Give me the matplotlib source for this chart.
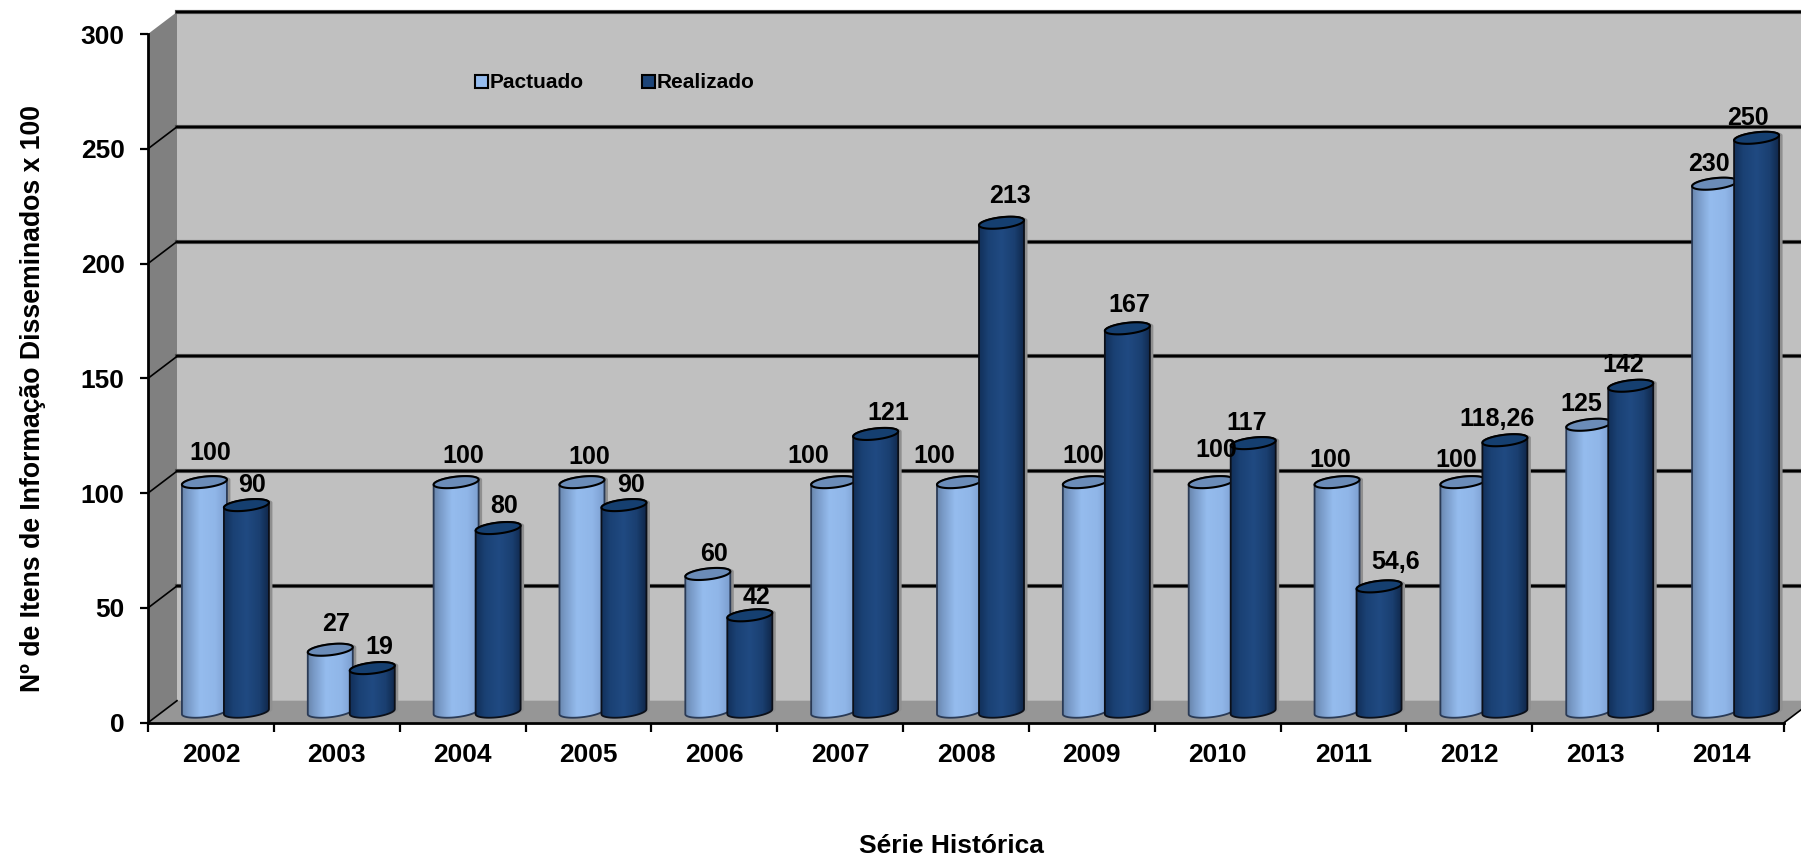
import matplotlib
matplotlib.use('Agg')
import matplotlib.pyplot as plt
import numpy as np
from matplotlib.colors import LinearSegmentedColormap
from matplotlib.patches import Patch, Polygon

plt.rcParams['font.family'] = ['Liberation Sans', 'DejaVu Sans']

years = ['2002', '2003', '2004', '2005', '2006', '2007', '2008', '2009', '2010', '2011', '2012', '2013', '2014']
pactuado = [100, 27, 100, 100, 60, 100, 100, 100, 100, 100, 100, 125, 230]
realizado = [90, 19, 80, 90, 42, 121, 213, 167, 117, 54.6, 118.26, 142, 250]
y_ticks = [0, 50, 100, 150, 200, 250, 300]

# label nudges in pixels (the labels were moved by hand in the original)
pact_nudge = [(6, 29), (6, 26), (7, 26), (7, 25), (6, 20), (-25, 26), (-25, 26), (-2, 26), (5, 32), (-7, 22), (-7, 22), (-7, 21), (-6, 20)]
real_nudge = [(6, 20), (7, 21), (6, 22), (7, 20), (7, 18), (13, 21), (8, 27), (2, 23), (-7, 20), (17, 24), (-8, 21), (-7, 21), (-9, 20)]

W, H = 1801, 858
LEFT, RIGHT, BOTTOM, TOP = 148, 1784, 722.7, 34
px_x = (RIGHT - LEFT) / len(years)
px_y = (BOTTOM - TOP) / 300

# 3D depth of the box, in data units
depth_x = 29 / px_x
depth_y = 22 / px_y

fig = plt.figure(figsize=(W / 100, H / 100), dpi=100)
ax = fig.add_axes([LEFT / W, 1 - BOTTOM / H, (RIGHT - LEFT) / W, (BOTTOM - TOP) / H])
ax.patch.set_visible(False)

# walls and floor
ax.add_patch(Polygon([(depth_x, depth_y), (13 + depth_x, depth_y), (13 + depth_x, 300 + depth_y), (depth_x, 300 + depth_y)],
                     fc='#c0c0c0', ec='none', clip_on=False, zorder=0))
ax.add_patch(Polygon([(0, 0), (depth_x, depth_y), (depth_x, 300 + depth_y), (0, 300)],
                     fc='#808080', ec='none', clip_on=False, zorder=0))
ax.add_patch(Polygon([(0, 0), (depth_x, depth_y), (13 + depth_x, depth_y), (13, 0)],
                     fc='#969696', ec='none', clip_on=False, zorder=0))

# gridlines, running round the left wall and along the back
for v in y_ticks[1:]:
    ax.plot([depth_x, 13 + depth_x], [v + depth_y, v + depth_y], color='#555555', lw=3, clip_on=False, zorder=1)
    ax.plot([depth_x, 13 + depth_x], [v + depth_y, v + depth_y], color='black', lw=1.7, clip_on=False, zorder=1)
for v in y_ticks[:-1]:
    ax.plot([0, depth_x], [v, v + depth_y], color='black', lw=1.2, clip_on=False, zorder=1)
ax.plot([13, 13 + depth_x], [0, depth_y], color='black', lw=1.2, clip_on=False, zorder=1)

light_cmap = LinearSegmentedColormap.from_list('light', [(0, '#6a87ad'), (0.12, '#7899c6'), (0.4, '#95bcee'), (0.75, '#90b6e8'), (1, '#7d9fd0')])
dark_cmap = LinearSegmentedColormap.from_list('dark', [(0, '#12305a'), (0.2, '#1a4174'), (0.5, '#204a82'), (0.8, '#1a3f70'), (1, '#10284c')])
gradient = np.linspace(0, 1, 64).reshape(1, -1)

half_w = 22.5 / px_x
half_h = 5.5 / px_y
tilt = 2.5 / px_y
arc = np.linspace(0, 2 * np.pi, 61)


def ring(cx, cy, t):
    return np.column_stack([cx + half_w * np.cos(t), cy + half_h * np.sin(t) + tilt * np.cos(t)])


def cylinder(cx, value, cmap, lid, edge, z):
    base = depth_y / 2
    top = value + base
    low = ring(cx, base, arc[30:])
    high = ring(cx, top, arc[:31])
    body = np.vstack([low, high])
    ax.add_patch(Polygon(body + [3.5 / px_x, 0], fc='#8f8f8f', ec='none', zorder=z))
    shape = Polygon(body, fc='none', ec=edge, lw=1.3, zorder=z + 0.2)
    ax.add_patch(shape)
    im = ax.imshow(gradient, cmap=cmap, aspect='auto', zorder=z + 0.1,
                   extent=[cx - half_w, cx + half_w, base - 20, top + 20])
    im.set_clip_path(shape)
    ax.add_patch(Polygon(ring(cx, top, arc), fc=lid, ec='black', lw=1.5, zorder=z + 0.3))


xs = np.arange(len(years)) + 0.5
group_shift = depth_x / 2
bar_step = 42 / px_x

for i, x in enumerate(xs):
    cylinder(x + group_shift - bar_step / 2, pactuado[i], light_cmap, '#6b8cb8', '#2a3a55', 10 + i)
    cylinder(x + group_shift + bar_step / 2, realizado[i], dark_cmap, '#153f70', '#0b0f18', 10.5 + i)

for i, x in enumerate(xs):
    labels = [(pactuado[i], -1, pact_nudge[i]), (realizado[i], 1, real_nudge[i])]
    for value, side, nudge in labels:
        ax.annotate(f'{value}'.replace('.', ','), (x + group_shift + side * bar_step / 2, value + depth_y / 2),
                    xytext=nudge, textcoords='offset pixels', ha='center', va='center',
                    fontsize=18, fontweight='bold', color='black', zorder=40, annotation_clip=False)

ax.set_xlim(0, len(years))
ax.set_ylim(0, 300)

ax.set_xticks(np.arange(len(years) + 1))
ax.set_xticklabels([])
ax.set_xticks(xs, minor=True)
ax.set_xticklabels(years, minor=True, fontsize=19, fontweight='bold')
ax.tick_params(axis='x', which='major', length=6.5, width=1.6, direction='out')
ax.tick_params(axis='x', which='minor', length=0, pad=14.5)
ax.set_yticks(y_ticks)
ax.tick_params(axis='y', length=5.8, width=1.6, pad=11)
for t in ax.get_yticklabels():
    t.set_fontsize(19)
    t.set_fontweight('bold')

for side in ['top', 'right']:
    ax.spines[side].set_visible(False)
for side in ['left', 'bottom']:
    ax.spines[side].set_linewidth(2)
    ax.spines[side].set_zorder(5)

ax.set_ylabel('Nº de Itens de Informação Disseminados x 100', fontsize=19.2, fontweight='bold', va='center')
ax.yaxis.set_label_coords((33 - LEFT) / (RIGHT - LEFT), (BOTTOM - 399) / (BOTTOM - TOP))
ax.set_xlabel('Série Histórica', fontsize=19, fontweight='bold', va='center')
ax.xaxis.set_label_coords((951 - LEFT) / (RIGHT - LEFT), (BOTTOM - 846) / (BOTTOM - TOP))

handles = [Patch(fc='#95bcee', ec='black', lw=1.5, label='Pactuado'),
           Patch(fc='#1c4478', ec='black', lw=1.5, label='Realizado')]
ax.legend(handles=handles, ncol=2, frameon=False, prop={'size': 15, 'weight': 'bold'},
          handlelength=0.6, handleheight=0.6, handletextpad=0.12, columnspacing=2.78,
          loc='center left', borderaxespad=0, borderpad=0,
          bbox_to_anchor=((475 - LEFT) / (RIGHT - LEFT), (BOTTOM - 83) / (BOTTOM - TOP)))

fig.savefig('out.png', dpi=100)
plt.close(fig)
